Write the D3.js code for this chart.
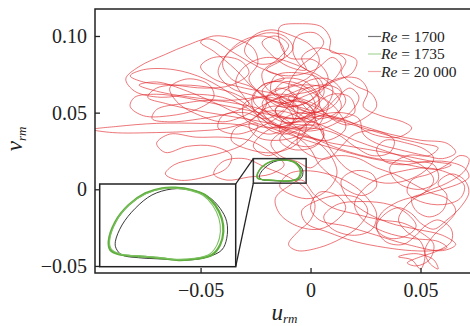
<!DOCTYPE html>
<html><head><meta charset="utf-8">
<script src="https://cdn.jsdelivr.net/npm/d3@7"></script>
<style>html,body{margin:0;padding:0;background:#fff;} svg{display:block;}</style>
</head><body><svg id="chart" width="470" height="326"></svg>
<script>
// Axis ticks and labels
const xTicks = [-0.05, 0, 0.05];
const xTickLabels = ["\u22120.05", "0", "0.05"];
const yTicks = [-0.05, 0, 0.05, 0.10];
const yTickLabels = ["\u22120.05", "0", "0.05", "0.10"];
const xDomain = [-0.098, 0.0725];
const yDomain = [-0.0546, 0.1176];
// Data window shown magnified in the inset
const zoomU = [-0.026, -0.002];
const zoomV = [0.004, 0.020];
const seriesNames = ["1700", "1735", "20 000"];

// Re = 1700 limit cycle (u_rm, v_rm)
const re1700 = [[-0.02324,0.00884],[-0.02206,0.01207],[-0.01972,0.01530],[-0.01678,0.01787],[-0.01326,0.01903],[-0.00974,0.01884],[-0.00682,0.01754],[-0.00476,0.01530],[-0.00358,0.01270],[-0.00358,0.00949],[-0.00446,0.00723],[-0.00682,0.00593],[-0.01034,0.00529],[-0.01502,0.00549],[-0.01914,0.00574],[-0.02206,0.00626],[-0.02311,0.00756]];

// Re = 1735 cycles
const re1735a = [[-0.02442,0.00884],[-0.02324,0.01270],[-0.02090,0.01594],[-0.01796,0.01820],[-0.01502,0.01917],[-0.01268,0.01928],[-0.00974,0.01884],[-0.00740,0.01787],[-0.00564,0.01594],[-0.00446,0.01336],[-0.00418,0.01077],[-0.00476,0.00820],[-0.00622,0.00626],[-0.00916,0.00549],[-0.01210,0.00529],[-0.01502,0.00562],[-0.01796,0.00593],[-0.02030,0.00607],[-0.02266,0.00640],[-0.02412,0.00723]];
const re1735b = [[-0.02425,0.00900],[-0.02305,0.01285],[-0.02075,0.01605],[-0.01785,0.01812],[-0.01495,0.01908],[-0.01270,0.01918],[-0.00990,0.01872],[-0.00772,0.01776],[-0.00605,0.01585],[-0.00495,0.01330],[-0.00470,0.01075],[-0.00525,0.00832],[-0.00662,0.00642],[-0.00940,0.00562],[-0.01212,0.00542],[-0.01500,0.00570],[-0.01790,0.00600],[-0.02020,0.00614],[-0.02248,0.00650],[-0.02392,0.00737]];

// Re = 20 000 trajectory
const re20000 = [
[-0.008,0.052],[-0.018,0.060],[-0.030,0.056],[-0.030,0.046],[-0.018,0.040],[-0.004,0.046],[0.004,0.058],[-0.002,0.070],[-0.014,0.072],[-0.022,0.064],[-0.014,0.054],[0.000,0.058],[0.008,0.072],[0.002,0.084],[-0.010,0.086],[-0.014,0.096],[-0.014,0.106],[-0.005,0.108],[0.005,0.106],[0.009,0.098],[0.009,0.090],[0.016,0.088],[0.021,0.084],[0.019,0.076],[0.010,0.070],[0.000,0.064],[-0.010,0.060],[-0.004,0.052],[0.010,0.046],[0.024,0.040],[0.038,0.034],[0.050,0.030],[0.058,0.027],[0.054,0.022],[0.044,0.022],[0.036,0.014],[0.040,0.004],[0.050,0.000],[0.058,0.006],[0.056,0.016],[0.046,0.018],[0.030,0.020],[0.014,0.026],[0.000,0.034],[-0.012,0.040],
[-0.024,0.050],[-0.036,0.062],[-0.048,0.072],[-0.062,0.078],[-0.076,0.078],[-0.082,0.074],[-0.076,0.070],[-0.062,0.068],[-0.048,0.066],[-0.036,0.068],[-0.028,0.076],[-0.032,0.084],[-0.044,0.086],[-0.050,0.080],[-0.044,0.072],[-0.030,0.066],[-0.016,0.062],[-0.006,0.054],[-0.008,0.044],[-0.018,0.036],
[-0.032,0.042],[-0.050,0.043],[-0.070,0.043],[-0.088,0.041],[-0.099,0.039],[-0.090,0.037],[-0.070,0.037],[-0.052,0.038],[-0.038,0.040],[-0.026,0.046],[-0.020,0.056],[-0.026,0.066],
[-0.036,0.072],[-0.040,0.082],[-0.034,0.094],[-0.024,0.100],[-0.014,0.096],[-0.012,0.086],[-0.020,0.078],[-0.010,0.074],[0.002,0.078],[0.010,0.086],[0.014,0.080],[0.008,0.068],[-0.004,0.060],
[-0.016,0.052],[-0.010,0.042],[0.002,0.040],[0.006,0.050],[-0.002,0.058],[-0.014,0.060],[-0.022,0.052],[-0.018,0.044],[-0.006,0.036],[0.008,0.032],[0.016,0.040],[0.012,0.052],[0.004,0.064],
[0.012,0.072],[0.022,0.072],[0.026,0.064],[0.024,0.054],[0.032,0.048],[0.042,0.044],[0.046,0.040],[0.040,0.034],[0.028,0.036],[0.018,0.044],[0.008,0.048],[-0.004,0.046],[-0.016,0.048],
[-0.030,0.052],[-0.044,0.056],[-0.058,0.060],[-0.070,0.062],[-0.080,0.060],[-0.082,0.054],[-0.076,0.048],[-0.064,0.048],[-0.052,0.052],[-0.044,0.060],[-0.046,0.068],[-0.056,0.072],[-0.064,0.066],[-0.060,0.056],[-0.050,0.048],[-0.040,0.044],[-0.030,0.048],[-0.020,0.056],
[-0.010,0.062],[0.000,0.066],[0.004,0.056],[-0.002,0.046],[-0.012,0.044],[-0.016,0.052],[-0.010,0.058],[0.000,0.054],[0.002,0.044],[-0.004,0.036],[-0.014,0.032],[-0.024,0.034],[-0.028,0.042],[-0.022,0.050],[-0.010,0.050],[-0.002,0.042],[-0.006,0.030],[-0.016,0.024],[-0.028,0.026],[-0.036,0.032],[-0.034,0.040],[-0.024,0.042],
[-0.030,0.030],[-0.040,0.024],[-0.052,0.020],[-0.062,0.016],[-0.066,0.010],[-0.060,0.006],[-0.048,0.008],[-0.038,0.014],[-0.036,0.022],[-0.044,0.028],[-0.056,0.028],[-0.066,0.024],[-0.070,0.030],[-0.064,0.036],[-0.052,0.034],[-0.040,0.034],[-0.028,0.032],[-0.018,0.024],[-0.012,0.016],[-0.018,0.010],[-0.028,0.008],[-0.038,0.006],[-0.044,0.010],[-0.040,0.018],[-0.030,0.020],
[-0.020,0.014],[-0.010,0.008],[-0.002,0.000],[0.002,-0.010],[0.000,-0.020],[-0.006,-0.028],[-0.010,-0.036],[-0.006,-0.040],[0.004,-0.038],[0.014,-0.032],[0.022,-0.024],[0.026,-0.014],[0.022,-0.006],[0.012,-0.004],[0.002,-0.008],[-0.004,-0.014],[-0.002,-0.022],[0.008,-0.028],[0.020,-0.034],[0.034,-0.038],[0.046,-0.040],[0.056,-0.040],[0.062,-0.038],[0.058,-0.034],[0.046,-0.032],[0.034,-0.028],[0.024,-0.020],[0.020,-0.010],
[0.024,0.000],[0.032,0.008],[0.042,0.012],[0.052,0.014],[0.060,0.012],[0.066,0.008],[0.070,0.002],[0.068,-0.006],[0.060,-0.010],[0.050,-0.008],[0.044,-0.002],[0.046,0.006],[0.054,0.010],[0.062,0.016],[0.068,0.022],[0.072,0.020],[0.070,0.012],[0.062,0.004],[0.052,-0.002],[0.044,-0.010],[0.040,-0.020],[0.044,-0.028],[0.050,-0.034],[0.052,-0.044],[0.050,-0.052],[0.046,-0.046],[0.040,-0.044],[0.048,-0.042],[0.056,-0.046],[0.058,-0.052],[0.054,-0.048],[0.052,-0.040],[0.056,-0.030],[0.062,-0.022],[0.066,-0.014],[0.062,-0.006],[0.054,-0.002],[0.046,0.004],[0.038,0.010],[0.030,0.014],[0.022,0.020],[0.014,0.022],[0.006,0.020],[0.000,0.014],
[-0.006,0.018],[-0.014,0.022],[-0.018,0.030],[-0.012,0.038],[0.000,0.040],[0.012,0.036],[0.020,0.028],[0.028,0.022],[0.036,0.024],[0.038,0.032],[0.030,0.038],[0.020,0.036],[0.014,0.028],[0.008,0.020],[0.000,0.022],[-0.006,0.030],[-0.004,0.040],[0.004,0.048],[0.014,0.050],[0.022,0.046],[0.024,0.036],
[0.030,0.030],[0.040,0.026],[0.052,0.022],[0.060,0.020],[0.066,0.024],[0.062,0.030],[0.050,0.032],[0.036,0.036],[0.022,0.042],[0.008,0.048],[-0.006,0.054],[-0.018,0.058],[-0.028,0.062],
[-0.036,0.066],[-0.042,0.076],[-0.038,0.088],[-0.030,0.096],[-0.020,0.102],[-0.012,0.100],[-0.008,0.092],[-0.014,0.084],[-0.024,0.082],[-0.030,0.090],[-0.026,0.100],[-0.018,0.104],[-0.008,0.100],[0.000,0.094],[0.004,0.084],[0.000,0.074],[-0.008,0.068],
[-0.016,0.064],[-0.022,0.056],[-0.016,0.046],[-0.004,0.042],[0.008,0.044],[0.014,0.054],[0.010,0.064],[0.000,0.068],[-0.010,0.066],[-0.014,0.058],[-0.006,0.050],[0.006,0.052],[0.012,0.060],[0.018,0.066],[0.022,0.060],[0.018,0.050],[0.010,0.042],[0.000,0.038],[-0.010,0.040],
[-0.022,0.044],[-0.038,0.048],[-0.054,0.052],[-0.066,0.056],[-0.074,0.060],[-0.070,0.066],[-0.058,0.068],[-0.044,0.066],[-0.034,0.062],[-0.028,0.056],[-0.036,0.050],[-0.050,0.046],[-0.064,0.044],[-0.072,0.046],[-0.070,0.052],[-0.058,0.056],[-0.046,0.058],[-0.034,0.056],[-0.022,0.052],
[-0.012,0.046],[-0.004,0.038],[0.004,0.030],[0.010,0.020],[0.012,0.010],[0.008,0.000],[0.000,-0.006],[-0.008,-0.004],[-0.014,0.002],[-0.010,0.010],[0.000,0.012],[0.012,0.008],[0.020,0.002],[0.026,-0.006],[0.030,-0.016],[0.028,-0.026],[0.020,-0.030],[0.010,-0.026],[0.006,-0.018],[0.012,-0.010],[0.024,-0.008],[0.036,-0.010],[0.044,-0.016],[0.048,-0.024],[0.044,-0.030],[0.036,-0.032],[0.030,-0.026],[0.032,-0.016],[0.040,-0.008],[0.050,-0.004],[0.060,0.000],[0.068,0.004],[0.072,0.008],
[0.070,0.014],[0.062,0.018],[0.052,0.018],[0.042,0.016],[0.034,0.018],[0.030,0.026],[0.034,0.032],[0.044,0.030],[0.052,0.026],[0.056,0.020],[0.052,0.012],[0.044,0.006],[0.034,0.004],[0.024,0.008],[0.016,0.014],[0.010,0.024],[0.006,0.034],[0.002,0.046],[-0.004,0.056],
[-0.010,0.066],[-0.006,0.078],[0.002,0.088],[0.006,0.096],[0.002,0.102],[-0.006,0.100],[-0.008,0.090],[-0.004,0.080],[0.004,0.074],[0.010,0.066],[0.008,0.056],[0.000,0.048],[-0.010,0.046],[-0.020,0.050],[-0.026,0.058],[-0.022,0.068],[-0.012,0.072],
[-0.024,0.080],[-0.036,0.090],[-0.046,0.098],[-0.056,0.094],[-0.066,0.088],[-0.078,0.080],[-0.084,0.072],[-0.080,0.064],[-0.068,0.060],[-0.054,0.062],[-0.040,0.060],[-0.030,0.054],[-0.022,0.046],
[-0.016,0.040],[-0.008,0.044],[-0.010,0.052],[-0.018,0.054],[-0.024,0.048],[-0.020,0.040],[-0.012,0.036],[-0.004,0.040],[0.002,0.048],[-0.002,0.056],[-0.010,0.058],[-0.016,0.064],[-0.012,0.070],[-0.004,0.068],[0.002,0.062],[0.008,0.056],[0.006,0.048],[0.000,0.044],[-0.006,0.048],[-0.008,0.056],[-0.004,0.064],[0.004,0.068],[0.012,0.066],[0.016,0.058],[0.012,0.050],[0.004,0.046],[-0.004,0.050],[-0.012,0.046],[-0.014,0.038],[-0.008,0.030],[0.000,0.028],[0.006,0.034],[0.004,0.042],[-0.004,0.044],[-0.014,0.042],[-0.022,0.036],[-0.026,0.028],[-0.020,0.022],[-0.012,0.026],
[-0.004,0.034],[0.010,0.030],[0.026,0.026],[0.042,0.022],[0.056,0.018],[0.064,0.016],[0.058,0.013],[0.044,0.016],[0.028,0.020],[0.012,0.026],[-0.002,0.032],[-0.014,0.038],
[-0.026,0.044],[-0.040,0.054],[-0.056,0.064],[-0.070,0.070],[-0.078,0.068],[-0.070,0.064],[-0.054,0.060],[-0.038,0.058],[-0.024,0.060],[-0.012,0.062],[-0.004,0.058],
[0.004,0.052],[0.012,0.046],[0.020,0.050],[0.018,0.060],[0.010,0.062],[0.004,0.056],[0.008,0.048],[0.016,0.042],[0.024,0.046],[0.030,0.054],[0.028,0.062],[0.020,0.068],[0.014,0.076],[0.016,0.084],[0.010,0.090],[0.002,0.092],[-0.004,0.086],[-0.002,0.078],[-0.010,0.080],[-0.018,0.088],[-0.022,0.096],[-0.016,0.100],[-0.010,0.094],[-0.014,0.086],[-0.022,0.076],[-0.020,0.066],[-0.014,0.060],
[-0.004,0.048],[0.008,0.040],[0.020,0.032],[0.032,0.026],[0.044,0.020],[0.052,0.014],[0.056,0.006],[0.052,-0.002],[0.046,-0.006],[0.048,-0.014],[0.054,-0.018],[0.060,-0.014],[0.062,-0.004],[0.058,0.004],[0.064,0.010],[0.070,0.006],[0.072,-0.002],[0.068,-0.012],[0.062,-0.020],[0.056,-0.026],[0.050,-0.022],[0.046,-0.016],[0.040,-0.012],[0.034,-0.016],[0.030,-0.024],[0.034,-0.034],[0.042,-0.036],[0.048,-0.030],[0.052,-0.024],[0.058,-0.020],[0.064,-0.026],[0.064,-0.034],[0.058,-0.040],[0.050,-0.044],[0.044,-0.048],[0.048,-0.050],[0.054,-0.046],[0.056,-0.036],[0.050,-0.028],[0.042,-0.022],[0.032,-0.020],[0.020,-0.016],[0.010,-0.012],[0.002,-0.004],[-0.004,0.006],
[-0.010,0.002],[-0.016,-0.006],[-0.014,-0.016],[-0.006,-0.024],[0.004,-0.026],[0.012,-0.020],[0.016,-0.012],[0.012,-0.004],[0.004,-0.002],[0.000,-0.012],[0.004,-0.020],[0.016,-0.024],[0.030,-0.030],[0.044,-0.036],[0.060,-0.040],[0.066,-0.036],[0.060,-0.030],[0.048,-0.026],[0.036,-0.022],[0.024,-0.014],[0.016,-0.004],[0.014,0.006],[0.020,0.012],[0.028,0.010],[0.030,0.002],[0.024,-0.004],[0.016,0.000],[0.010,0.008],[0.004,0.016],[0.000,0.026],[-0.006,0.034],[-0.014,0.040],
[-0.024,0.050],[-0.030,0.060],[-0.034,0.070],[-0.030,0.080],[-0.020,0.086],[-0.008,0.082],[0.000,0.076],[0.004,0.066],[0.000,0.058],[-0.008,0.054],[-0.018,0.058],[-0.026,0.066],[-0.034,0.078],[-0.044,0.090],[-0.050,0.096],[-0.044,0.100],[-0.034,0.098],[-0.026,0.092],[-0.024,0.082],[-0.028,0.072],[-0.022,0.062],[-0.012,0.056],
[-0.006,0.060],[-0.014,0.066],[-0.020,0.060],[-0.016,0.050],[-0.006,0.046],[0.002,0.052],[0.000,0.062],[-0.008,0.068],[-0.018,0.070],[-0.026,0.062],[-0.026,0.052],[-0.020,0.044],[-0.010,0.040],[0.000,0.042],[0.006,0.036],[0.002,0.028],[-0.008,0.026],[-0.014,0.032],[-0.010,0.040],[-0.002,0.052],[0.006,0.062],[0.004,0.072],[-0.006,0.076],[-0.016,0.074],[-0.018,0.064],[-0.010,0.056],[0.000,0.050],[0.010,0.054],[0.014,0.064],[0.008,0.072],[-0.002,0.070],[-0.006,0.062],[-0.014,0.048],[-0.024,0.040],[-0.034,0.036],[-0.042,0.040],[-0.040,0.048],[-0.030,0.050],[-0.020,0.046],[-0.012,0.052]
];

const frame = {left: 95, top: 9, right: 471, bottom: 273};
const inset = {left: 99.7, top: 184, right: 235.7, bottom: 266.7};
const serif = "'Liberation Serif','Times New Roman',serif";
const ink = "#222";

const svg = d3.select("#chart");
const x = d3.scaleLinear().domain(xDomain).range([frame.left, 470]);
const y = d3.scaleLinear().domain(yDomain).range([frame.bottom, frame.top]);

const defs = svg.append("defs");
defs.append("clipPath").attr("id", "plotClip").append("rect")
  .attr("x", frame.left).attr("y", frame.top)
  .attr("width", frame.right - frame.left).attr("height", frame.bottom - frame.top);
defs.append("clipPath").attr("id", "insetClip").append("rect")
  .attr("x", inset.left).attr("y", inset.top)
  .attr("width", inset.right - inset.left).attr("height", inset.bottom - inset.top);

// Main phase portrait
const plot = svg.append("g").attr("clip-path", "url(#plotClip)");
const lineMain = d3.line().x(d => x(d[0])).y(d => y(d[1])).curve(d3.curveCatmullRom.alpha(0.5));
const loopMain = d3.line().x(d => x(d[0])).y(d => y(d[1])).curve(d3.curveCatmullRomClosed.alpha(0.5));

plot.append("path").datum(re20000).attr("d", lineMain)
  .attr("fill", "none").attr("stroke", "#e0262b").attr("stroke-width", 0.7)
  .attr("stroke-opacity", 0.9).attr("stroke-linejoin", "round");

plot.append("path").datum(re1700).attr("d", loopMain)
  .attr("fill", "none").attr("stroke", ink).attr("stroke-width", 0.9);
[re1735a, re1735b].forEach(c => plot.append("path").datum(c).attr("d", loopMain)
  .attr("fill", "none").attr("stroke", "#5fae3e").attr("stroke-width", 1.3));

// Zoom window outline in the main plot
const zx0 = x(zoomU[0]), zx1 = x(zoomU[1]), zy0 = y(zoomV[1]), zy1 = y(zoomV[0]);
svg.append("rect").attr("x", zx0).attr("y", zy0).attr("width", zx1 - zx0).attr("height", zy1 - zy0)
  .attr("fill", "none").attr("stroke", "#333").attr("stroke-width", 1.5);

// Connector lines from the inset to the zoom window
svg.append("line").attr("x1", inset.right).attr("y1", inset.top).attr("x2", zx0).attr("y2", zy0)
  .attr("stroke", ink).attr("stroke-width", 1.3);
svg.append("line").attr("x1", inset.right).attr("y1", inset.bottom).attr("x2", zx0).attr("y2", zy1)
  .attr("stroke", ink).attr("stroke-width", 1.3);

// Inset
svg.append("rect").attr("x", inset.left).attr("y", inset.top)
  .attr("width", inset.right - inset.left).attr("height", inset.bottom - inset.top)
  .attr("fill", "#fff").attr("stroke", "none");
const xi = d3.scaleLinear().domain(zoomU).range([inset.left, inset.right]);
const yi = d3.scaleLinear().domain(zoomV).range([inset.bottom, inset.top]);
const loopInset = d3.line().x(d => xi(d[0])).y(d => yi(d[1])).curve(d3.curveCatmullRomClosed.alpha(0.5));
const gi = svg.append("g").attr("clip-path", "url(#insetClip)");
gi.append("path").datum(re1700).attr("d", loopInset)
  .attr("fill", "none").attr("stroke", ink).attr("stroke-width", 0.9);
gi.append("path").datum(re1735a).attr("d", loopInset)
  .attr("fill", "none").attr("stroke", "#5fae3e").attr("stroke-width", 2.2);
gi.append("path").datum(re1735b).attr("d", loopInset)
  .attr("fill", "none").attr("stroke", "#7cc060").attr("stroke-width", 1.1);
svg.append("rect").attr("x", inset.left).attr("y", inset.top)
  .attr("width", inset.right - inset.left).attr("height", inset.bottom - inset.top)
  .attr("fill", "none").attr("stroke", ink).attr("stroke-width", 1.5);

// Frame
svg.append("path")
  .attr("d", `M${frame.right},${frame.top}H${frame.left}V${frame.bottom}H${frame.right}`)
  .attr("fill", "none").attr("stroke", ink).attr("stroke-width", 1.5);

// Axes (ticks point inward)
const yAxis = d3.axisLeft(y).tickValues(yTicks).tickFormat((d, i) => yTickLabels[i])
  .tickSizeInner(-5).tickSizeOuter(0).tickPadding(8);
const gy = svg.append("g").attr("transform", `translate(${frame.left},0)`).call(yAxis);
const xAxis = d3.axisBottom(x).tickValues(xTicks).tickFormat((d, i) => xTickLabels[i])
  .tickSizeInner(-5).tickSizeOuter(0).tickPadding(10);
const gx = svg.append("g").attr("transform", `translate(0,${frame.bottom})`).call(xAxis);
[gx, gy].forEach(g => {
  g.select(".domain").remove();
  g.selectAll(".tick line").attr("stroke", ink).attr("stroke-width", 1.3);
  g.selectAll(".tick text").attr("font-family", serif).attr("font-size", 20).attr("fill", ink);
});

// Axis titles
const xt = svg.append("text").attr("x", 271.5).attr("y", 319.5)
  .attr("font-family", serif).attr("font-style", "italic").attr("fill", ink);
xt.append("tspan").attr("font-size", 23).text("u");
xt.append("tspan").attr("font-size", 13).attr("dy", 3).text("rm");

const yt = svg.append("text").attr("transform", "translate(22,139) rotate(-90)")
  .attr("text-anchor", "middle")
  .attr("font-family", serif).attr("font-style", "italic").attr("fill", ink);
yt.append("tspan").attr("font-size", 23).text("v");
yt.append("tspan").attr("font-size", 13).attr("dy", 3.5).text("rm");

// Legend
const legendColors = ["#777", "#a6d59a", "#f2a3a3"];
const legendBase = [41.5, 59, 76.5];
seriesNames.forEach((name, i) => {
  svg.append("line").attr("x1", 368).attr("x2", 381)
    .attr("y1", legendBase[i] - 5).attr("y2", legendBase[i] - 5)
    .attr("stroke", legendColors[i]).attr("stroke-width", 1.2);
  const t = svg.append("text").attr("x", 381).attr("y", legendBase[i])
    .attr("font-family", serif).attr("font-size", 15.5).attr("fill", ink);
  t.append("tspan").attr("font-style", "italic").text("Re");
  t.append("tspan").text(" = " + name);
});
</script>
</body></html>
